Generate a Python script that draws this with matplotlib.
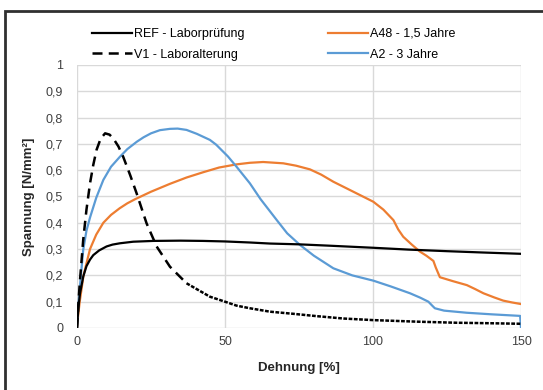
import numpy as np
import matplotlib.pyplot as plt
from matplotlib.patches import Rectangle

plt.rcParams['font.family'] = ['Liberation Sans', 'DejaVu Sans']

# REF - Laborprüfung
ref_x = [0, 0.5, 1, 2.1, 3.2, 4.4, 5.5, 7.5, 10, 12, 14.5, 19, 25.8, 35, 42.6, 50, 58.4, 65.2,
         75, 85, 100, 112, 125, 137, 150]
ref_y = [0, 0.08, 0.13, 0.195, 0.235, 0.26, 0.277, 0.295, 0.31, 0.317, 0.322, 0.328, 0.331,
         0.332, 0.331, 0.329, 0.325, 0.321, 0.318, 0.313, 0.305, 0.298, 0.292, 0.287, 0.282]

# V1 - Laboralterung
v1_x = [0, 0.5, 1, 2.1, 3.2, 4.4, 5.5, 6.6, 8, 9.5, 11, 12.3, 14, 15.6, 18, 20.2, 23.5, 26.9,
        31.4, 37, 44.9, 50, 53.9, 58.4, 65.2, 73, 81, 90, 100, 115, 128, 140, 150]
v1_y = [0, 0.1, 0.18, 0.335, 0.45, 0.55, 0.62, 0.677, 0.72, 0.74, 0.735, 0.72, 0.69, 0.651,
        0.58, 0.51, 0.398, 0.31, 0.233, 0.17, 0.119, 0.1, 0.085, 0.075, 0.062, 0.054, 0.045,
        0.036, 0.03, 0.024, 0.02, 0.018, 0.016]

# A48 - 1,5 Jahre
a48_x = [0, 0.4, 1, 2.2, 4.4, 6.5, 8.9, 11.5, 14.4, 17, 19.7, 25, 31.4, 37, 42.6, 48, 53.9,
         58.4, 62.9, 69.7, 74, 78.7, 82.5, 86.6, 93, 100.1, 103.5, 106.9, 108.5, 110.2, 113,
         115.9, 118, 120.4, 121.2, 122.6, 127, 131.7, 134.5, 137.3, 141, 144, 147, 150]
a48_y = [0, 0.05, 0.106, 0.2, 0.3, 0.355, 0.4, 0.43, 0.455, 0.474, 0.49, 0.518, 0.548, 0.572,
         0.592, 0.61, 0.622, 0.628, 0.631, 0.626, 0.617, 0.603, 0.583, 0.556, 0.52, 0.48, 0.45,
         0.41, 0.375, 0.347, 0.318, 0.29, 0.275, 0.255, 0.23, 0.193, 0.178, 0.163, 0.148,
         0.132, 0.116, 0.104, 0.097, 0.091]

# A2 - 3 Jahre
a2_x = [0, 0.4, 1, 2.1, 3.2, 4.4, 6.5, 8.9, 11.5, 14.5, 17, 20.2, 22.5, 25, 28, 31.4, 34, 37,
        40.5, 44.9, 47, 51, 53.9, 58.4, 62, 67.5, 71, 75.3, 80, 86.6, 93, 100.1, 106, 112.5,
        116, 118.7, 120, 120.9, 124, 131.6, 140, 149.7, 150]
a2_y = [0, 0.08, 0.16, 0.297, 0.37, 0.42, 0.495, 0.563, 0.613, 0.651, 0.68, 0.708, 0.725,
        0.74, 0.752, 0.757, 0.758, 0.753, 0.738, 0.715, 0.697, 0.652, 0.613, 0.55, 0.49, 0.41,
        0.36, 0.316, 0.275, 0.227, 0.2, 0.18, 0.158, 0.132, 0.115, 0.1, 0.085, 0.075, 0.066,
        0.058, 0.052, 0.046, 0]

fig = plt.figure(figsize=(5.43, 3.90), dpi=100)
ax = fig.add_axes([0.1418, 0.159, 0.8177, 0.6745])

# frame around the whole chart
fig.patches.append(Rectangle((5 / 543, -0.1), 1.2, (390 - 11) / 390 + 0.1,
                             transform=fig.transFigure, fill=False,
                             edgecolor='#303030', linewidth=2.0))

orange = '#ED7D31'
blue = '#5B9BD5'

ax.plot(ref_x, ref_y, color='black', lw=1.6, label='REF - Laborprüfung', zorder=4)
ax.plot(a48_x, a48_y, color=orange, lw=1.6, label='A48 - 1,5 Jahre', zorder=3)
ax.plot(a2_x, a2_y, color=blue, lw=1.6, label='A2 - 3 Jahre', zorder=3)
# V1 dashed, later part looks almost solid because of dense points
split = 20
ax.plot(v1_x[:split], v1_y[:split], color='black', lw=1.8, linestyle=(0, (4, 2.5)),
        label='V1 - Laboralterung', zorder=4)
ax.plot(v1_x[split - 1:], v1_y[split - 1:], color='black', lw=1.8,
        linestyle=(0, (1.5, 0.6)), zorder=4)

ax.set_xlim(0, 150)
ax.set_ylim(0, 1)
ax.set_xticks([0, 50, 100, 150])
ax.set_yticks(np.arange(0, 1.01, 0.1))
ax.set_yticklabels(['0', '0,1', '0,2', '0,3', '0,4', '0,5', '0,6', '0,7', '0,8', '0,9', '1'])
ax.tick_params(axis='y', length=0, labelsize=9, colors='#404040', pad=10)
ax.tick_params(axis='x', length=0, labelsize=9, colors='#404040', pad=6)
ax.grid(True, color='#D9D9D9', linewidth=1.0, zorder=0)
for s in ax.spines.values():
    s.set_visible(False)
ax.set_xlabel('Dehnung [%]', fontsize=9.5, fontweight='bold', color='#262626', labelpad=10)
ax.set_ylabel('Spannung [N/mm²]', fontsize=9.5, fontweight='bold', color='#262626', labelpad=8)

h, l = ax.get_legend_handles_labels()
order = [0, 3, 1, 2]
fig.legend([h[i] for i in order], [l[i] for i in order], ncol=2, frameon=False,
           loc='upper left', bbox_to_anchor=(87 / 543, 1 - 23 / 390), fontsize=9,
           handlelength=3.2, handletextpad=0.2, columnspacing=6.6, labelspacing=0.7,
           borderaxespad=0)

fig.savefig('out.png', dpi=100)
